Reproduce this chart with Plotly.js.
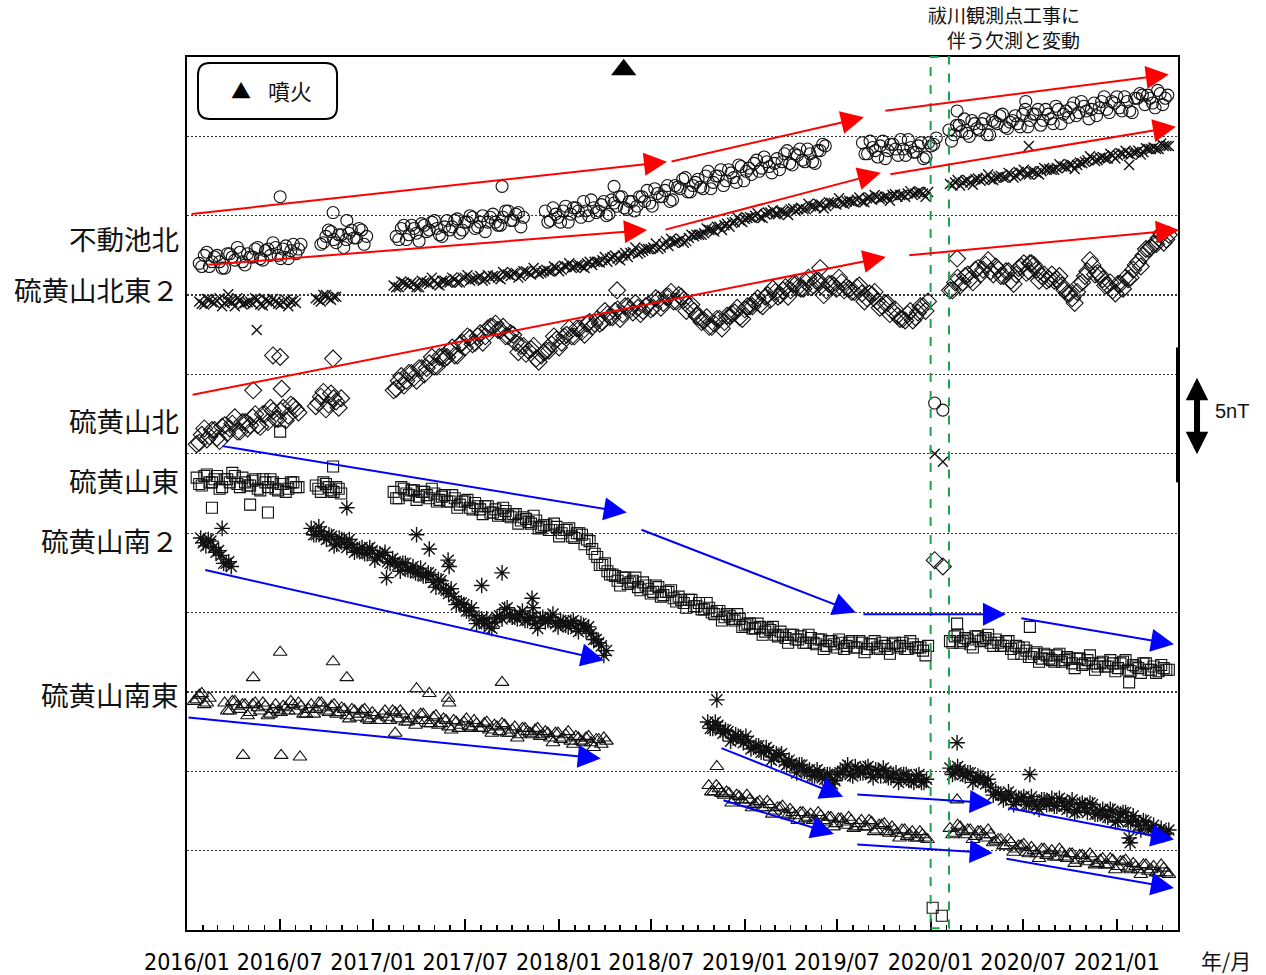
<!DOCTYPE html>
<html><head><meta charset="utf-8">
<script src="https://cdn.plot.ly/plotly-3.0.1.min.js"></script>
<style>html,body{margin:0;padding:0;background:#fff}#chart{width:1266px;height:975px}</style>
</head><body><div id="chart"></div>
<script>
// sampling: main samples every 10 days from each segment start, mid samples 5 days later
const STEP_DAYS = 10;
const MID_OFFSET_DAYS = 5;

// ---------- 不動池北 (circles) ----------
const fudoStarts = ['2016-01-25','2016-09-20','2017-02-15','2017-12-05','2019-08-20'];
const fudoSegs = [
 [42.0,42.5,41.8,42.4,42.1,41.7,42.6,42.2,42.7,41.9,42.4,42.9,42.3,42.8,42.5,43.0,42.3,43.1,42.8,42.6,43.2],
 [43.2,43.7,44.0,43.3,43.8,43.5,44.1,43.6,44.1,43.7],
 [43.7,44.2,43.5,44.4,43.9,44.5,44.0,44.6,44.2,43.7,44.7,44.3,44.8,44.1,44.6,44.9,44.3,45.0,44.6,45.1,44.4,44.9,45.3,44.7,45.2,44.9],
 [45.3,44.7,45.1,44.6,45.6,45.1,45.5,44.9,45.3,46.0,45.2,45.7,45.0,46.0,45.6,46.2,45.4,45.9,45.6,46.2,
  46.6,45.6,46.4,46.2,46.9,46.0,46.8,47.3,46.5,46.9,47.3,46.7,47.8,47.1,47.5,46.9,47.9,47.4,48.2,47.2,
  48.0,48.3,47.8,48.7,48.1,48.3,47.9,48.9,48.3,48.9,49.2,48.4,48.9,48.3,49.1,49.4],
 [49.6,48.9,49.3,48.7,49.7,49.1,49.5,48.8,49.2,49.8,49.0,49.4,48.6,49.6,49.5,null,null,
  50.4,50.1,50.7,51.1,50.0,50.8,50.4,51.1,50.1,50.9,51.3,50.6,50.9,51.3,50.6,51.7,51.0,51.4,50.7,51.7,
  51.1,51.9,50.8,51.6,51.8,51.3,52.2,51.6,51.7,51.3,52.2,51.7,52.2,52.5,51.6,52.2,51.5,52.4,52.6,52.6,
  52.1,52.9,52.0,52.6]
];
const fudoMid = [
 [41.8,42.7,42.1,42.5,41.7,42.6,42.4,43.0,42.1,42.6,42.4,43.0,42.2,42.9,43.3,42.5,42.9,42.3,43.2,42.9],
 [43.3,44.1,43.5,43.8,43.0,43.9,43.6,44.2,43.2],
 [43.5,44.4,43.8,44.2,43.4,44.4,44.1,44.7,43.8,44.3,44.1,44.7,43.9,44.6,45.0,44.2,44.6,44.0,44.9,44.6,44.4,45.3,44.7,45.1,44.3],
 [44.6,45.5,44.9,45.3,44.6,45.5,45.3,45.9,45.0,45.5,45.3,45.9,45.1,45.8,46.2,45.5,45.9,45.3,46.2,45.9,
  45.8,46.7,46.2,46.6,45.9,46.9,46.7,47.4,46.5,47.1,46.8,47.5,46.7,47.5,47.9,47.2,47.7,47.1,48.1,47.8,
  47.6,48.5,48.0,48.4,47.7,48.6,48.4,49.1,48.2,48.8,48.5,49.2,48.4,49.1,49.5],
 [48.9,49.7,49.1,49.4,48.6,49.5,49.2,49.8,48.8,49.3,49.0,49.6,48.7,49.4,49.9,null,null,
  49.7,50.7,50.3,50.2,51.0,50.5,50.8,50.1,51.0,50.8,51.4,50.5,51.0,50.8,51.4,50.6,51.4,51.7,51.0,51.4,
  50.8,51.7,51.4,51.2,52.1,51.5,51.9,51.1,52.1,51.8,52.5,51.5,52.1,51.8,52.5,51.6,52.4,52.7,52.0,52.4,
  51.8,52.7,52.4]
];
const fudoOutDates = ['2016-07-02','2016-10-14','2016-11-10','2017-09-11','2018-04-19','2020-07-06','2020-01-09','2020-01-25','2020-02-22'];
const fudoOutVals  = [46.2,45.2,44.7,46.85,46.85,52.2,33.2,32.75,51.6];

// ---------- 硫黄山北東２ (x) ----------
const ne2Starts = ['2016-01-25','2016-09-10','2017-02-10','2020-02-08'];
const ne2Segs = [
 [39.6,39.4,39.7,39.5,39.8,39.5,39.6,39.3,39.7,39.5,39.6,39.8,39.4,39.7,39.5,39.6,39.4,39.7,39.6,39.5],
 [39.8,39.6,40.0,39.7,39.9],
 [40.6,40.5,40.8,40.6,40.7,40.5,40.8,40.7,40.9,40.6,
  40.9,40.8,41.0,40.8,41.1,40.9,41.0,41.2,41.0,41.1,
  41.2,41.0,41.3,41.2,41.4,41.2,41.5,41.3,41.5,41.4,
  41.6,41.5,41.7,41.6,41.8,41.7,41.9,41.8,42.0,41.9,
  42.1,42.2,42.1,42.4,42.3,42.5,42.4,42.7,42.6,42.8,
  42.9,43.0,42.9,43.2,43.1,43.3,43.4,43.3,43.6,43.7,
  43.8,43.9,44.1,44.0,44.3,44.4,44.3,44.6,44.7,44.8,
  44.9,45.0,44.9,45.1,45.2,45.1,45.3,45.2,45.4,45.3,
  45.5,45.4,45.6,45.5,45.7,45.6,45.8,45.7,45.8,45.9,
  45.9,46.0,45.9,46.1,46.0,46.2,46.1,46.2,46.3,46.2,
  46.3,46.4,46.3,46.5,46.4,46.5],
 [47.0,47.1,46.9,47.2,47.1,47.3,47.2,47.4,47.3,47.4,
  47.5,47.4,47.6,47.5,47.7,47.6,47.8,47.7,47.8,47.9,
  47.9,48.0,48.1,48.0,48.2,48.2,48.3,48.5,48.6,48.5,
  48.7,48.6,48.8,48.8,48.9,48.9,49.0,49.1,49.0,49.2,
  49.3,49.2,49.4,49.4]
];
const ne2Mid = [
 [39.45,39.75,39.55,39.65,39.3,39.65,39.55,39.8,39.4,39.55,39.45,39.7,39.35,39.65,39.75,39.45,39.55,39.3,39.65],
 [39.7,40.0,39.8,39.9],
 [40.5,40.85,40.7,40.8,40.5,40.9,40.8,41.1,40.7,40.9,
  40.8,41.1,40.8,41.1,41.25,41.0,41.1,40.9,41.25,41.2,
  41.1,41.45,41.3,41.4,41.1,41.5,41.4,41.7,41.35,41.5,
  41.5,41.8,41.5,41.85,42.0,41.75,41.9,41.7,42.1,42.1,
  42.05,42.4,42.3,42.5,42.2,42.65,42.65,43.0,42.7,42.9,
  42.9,43.25,43.0,43.4,43.55,43.35,43.55,43.4,43.8,43.8,
  43.8,44.2,44.1,44.3,44.1,44.5,44.55,44.9,44.6,44.85,
  44.85,45.15,44.85,45.2,45.35,45.1,45.25,45.05,45.45,45.4,
  45.4,45.75,45.6,45.75,45.45,45.85,45.8,46.1,45.75,45.95,
  45.85,46.15,45.85,46.15,46.3,46.05,46.2,45.95,46.35,46.3,
  46.2,46.55,46.4,46.5,46.2],
 [46.9,47.25,47.1,47.25,46.95,47.35,47.3,47.6,47.25,47.45,
  47.4,47.7,47.4,47.75,47.9,47.6,47.8,47.6,48.0,47.95,
  47.9,48.25,48.1,48.25,47.95,48.35,48.4,48.75,48.45,48.65,
  48.6,48.9,48.6,48.95,49.1,48.85,49.0,48.85,49.25,49.2,
  49.2,49.55,49.4]
];
const ne2OutDates = ['2016-03-22','2016-05-17','2020-07-12','2021-01-25','2020-01-09','2020-01-25'];
const ne2OutVals  = [40.05,37.8,49.4,48.2,30.0,29.5];

// ---------- 硫黄山北 (diamonds) ----------
const nStarts = ['2016-01-20','2016-09-10','2017-02-10','2020-02-08'];
const nSegs = [
 [30.6,31.2,30.9,31.5,31.0,31.7,31.3,31.9,31.4,32.0,31.6,32.3,31.8,32.5,32.0,32.7,32.2,32.9,32.4,33.0,32.6],
 [33.0,33.6,32.8,33.8,33.3,33.5],
 [34.0,34.6,34.3,35.1,34.8,35.4,35.0,35.7,35.5,36.1,
  36.0,36.5,36.2,36.9,36.7,37.3,37.0,37.6,37.4,38.0,
  38.2,37.8,37.4,37.6,37.0,36.8,36.3,36.6,36.0,36.2,
  36.5,36.9,37.2,37.0,37.5,37.4,37.9,37.7,38.2,38.0,
  38.5,38.3,38.8,38.6,39.1,38.8,39.3,38.9,39.2,39.0,
  39.4,39.2,39.7,39.5,39.9,39.6,40.0,39.7,39.3,39.0,
  38.6,38.4,38.0,38.2,38.5,38.3,38.7,38.9,38.6,39.1,
  39.3,39.6,39.4,39.9,39.7,40.2,40.0,40.5,40.3,40.7,
  40.4,40.8,40.5,40.9,40.6,40.3,40.7,40.4,40.8,40.5,
  40.2,40.5,40.1,39.8,40.0,39.6,39.3,39.5,39.0,38.7,
  38.5,38.8,38.4,38.9,39.3,39.6],
 [40.3,40.8,40.6,41.2,41.0,41.6,41.3,41.9,41.5,41.8,
  41.2,41.5,40.9,41.3,41.8,41.4,42.0,41.6,41.2,40.9,
  41.3,41.0,40.6,40.1,39.8,40.2,40.8,41.5,41.9,41.4,
  41.0,40.6,40.3,40.7,40.4,41.0,41.6,42.1,42.5,42.9,
  43.2,43.6,43.3,43.8]
];
const nMid = [
 [30.7,31.6,31.1,31.5,30.8,31.8,31.6,32.3,31.4,32.0,31.8,32.5,31.7,32.5,32.9,32.2,32.7,32.1,33.1,32.8],
 [33.2,33.9,33.1,33.5,32.9],
 [34.1,34.9,34.6,35.1,34.6,35.4,35.4,36.1,35.5,36.1,
  36.1,36.7,36.2,37.0,37.4,36.9,37.4,37.0,37.9,38.0,
  37.8,38.0,37.4,37.5,36.4,36.8,36.5,36.8,35.8,36.4,
  36.5,37.4,36.7,37.4,37.9,37.4,37.9,37.5,38.3,38.2,
  38.2,39.0,38.6,39.0,38.5,39.3,39.1,39.5,38.8,39.3,
  39.1,39.8,39.2,39.9,40.2,39.6,39.9,39.0,39.4,38.7,
  38.3,38.6,38.0,38.5,37.9,38.7,38.8,39.2,38.5,39.3,
  39.3,39.8,39.3,40.0,40.4,39.9,40.3,39.9,40.7,40.5,
  40.4,41.1,40.6,40.9,40.0,40.7,40.6,41.1,40.3,40.4,
  40.2,40.6,39.6,40.1,40.2,39.2,39.5,38.8,39.1,38.5,
  38.4,39.0,38.6,39.3,39.0],
 [40.3,41.1,40.8,41.3,40.8,41.7,41.6,42.2,41.3,41.6,
  41.2,41.5,40.7,41.7,42.0,41.5,41.9,40.9,41.3,41.0,
  40.9,41.2,40.3,40.1,39.5,40.7,41.2,42.2,41.3,41.3,
  40.6,40.8,40.1,40.7,41.1,41.1,41.9,41.8,42.9,43.0,
  43.2,43.9,43.5]
];
const nOutDates = ['2016-06-18','2016-07-02','2016-10-14','2016-05-10','2016-07-05','2019-05-29','2020-07-14','2018-04-25','2020-01-09','2020-01-25','2020-02-22'];
const nOutVals  = [36.2,36.1,36.0,34.0,34.1,41.7,42.0,40.3,23.3,22.9,42.3];

// ---------- 硫黄山東 (squares) ----------
const eStarts = ['2016-01-20','2016-09-10','2017-02-10','2020-02-08'];
const eSegs = [
 [28.5,28.0,28.7,28.2,28.6,27.9,28.4,28.8,28.1,28.5,28.0,28.3,27.8,28.4,27.9,28.2,27.7,28.1,27.8,28.2,27.9],
 [28.0,27.6,28.1,27.7,27.9,27.5],
 [27.6,27.2,27.8,27.4,27.7,27.3,27.6,27.2,27.5,27.1,
  27.4,27.0,27.2,26.8,27.0,26.6,26.9,26.5,26.7,26.3,
  26.5,26.2,26.4,26.0,26.2,25.8,25.9,25.6,25.8,25.4,
  25.5,25.2,25.4,25.0,25.2,24.8,25.0,24.9,24.6,24.0,
  23.5,23.0,22.6,22.4,22.0,22.2,21.8,22.0,21.6,21.9,
  21.5,21.3,21.6,21.1,21.3,20.9,21.0,20.6,20.8,20.4,
  20.6,20.2,20.3,19.9,20.1,19.7,19.8,19.5,19.6,19.2,
  19.3,19.0,19.1,18.8,18.9,18.6,18.8,18.4,18.6,18.3,
  18.5,18.1,18.4,18.0,18.3,17.9,18.2,17.8,18.1,17.9,
  18.2,17.8,18.1,17.7,18.0,17.8,18.1,17.7,18.0,17.8,
  18.1,17.7,18.0,17.8,17.6,17.9],
 [18.2,18.5,18.1,18.4,18.0,18.5,18.2,18.4,18.1,18.3,
  17.9,18.2,17.7,17.9,17.4,17.6,17.2,17.5,17.1,17.3,
  17.0,17.3,16.9,17.2,16.8,17.1,16.7,17.0,16.8,16.6,
  16.9,16.6,16.8,16.5,16.9,16.4,16.7,16.5,16.8,16.4,
  16.6,16.3,16.5,16.4]
];
const eMid = [
 [28.1,28.6,28.2,28.4,27.8,28.4,28.2,28.6,27.9,28.2,28.0,28.4,27.7,28.2,28.4,27.8,28.1,27.6,28.2,27.9],
 [27.8,28.2,27.9,27.6,27.8],
 [27.2,27.9,27.5,27.7,27.1,27.6,27.4,27.8,27.0,27.3,
  27.0,27.4,26.6,27.0,27.1,26.5,26.7,26.2,26.7,26.3,
  26.1,26.6,26.1,26.2,25.6,26.0,25.7,26.1,25.3,25.5,
  25.2,25.6,24.8,25.2,25.3,24.7,25.0,24.3,24.5,23.7,
  23.0,23.1,22.4,22.3,21.7,22.2,21.9,22.2,21.4,21.7,
  21.2,21.7,21.0,21.3,21.4,20.7,20.8,20.3,20.8,20.4,
  20.2,20.6,20.0,20.1,19.5,19.9,19.6,19.9,19.1,19.3,
  19.0,19.3,18.6,19.0,19.1,18.5,18.6,18.1,18.6,18.3,
  18.1,18.6,18.1,18.3,17.7,18.2,18.0,18.3,17.7,18.1,
  17.8,18.2,17.5,18.0,18.2,17.7,17.9,17.4,18.1,17.9,
  17.7,18.2,17.8,17.8,17.3],
 [18.1,18.6,18.2,18.3,17.8,18.5,18.3,18.6,17.9,18.1,
  17.9,18.2,17.4,17.8,17.8,17.2,17.4,16.9,17.4,17.1,
  16.9,17.4,17.0,17.1,16.5,17.1,16.8,17.3,16.4,16.8,
  16.6,17.0,16.3,16.8,17.0,16.3,16.6,16.2,16.8,16.4,
  16.2,16.7,16.4]
];
const eOutDates = ['2016-02-19','2016-05-04','2016-06-08','2016-07-02','2016-10-14','2020-02-22','2020-07-14','2021-01-25','2020-01-05','2020-01-23'];
const eOutVals  = [26.6,26.8,26.3,31.4,29.2,19.3,19.1,15.6,1.4,0.9];

// ---------- 硫黄山南２ (asterisks) ----------
const s2Starts = ['2016-01-28','2016-09-01','2018-10-20','2020-02-08'];
const s2Segs = [
 [24.7,24.2,24.5,23.8,23.6,23.1,22.9],
 [25.3,24.9,25.1,24.6,24.8,24.3,24.6,24.1,24.3,23.9,
  24.1,23.7,23.9,23.5,23.6,23.2,23.4,23.0,23.1,22.7,
  22.9,22.5,22.3,22.5,21.9,22.1,21.5,21.2,21.0,20.6,
  20.5,20.1,19.8,19.5,19.3,19.1,19.4,19.8,20.2,19.9,
  19.7,19.9,19.5,19.7,19.3,19.6,19.4,19.7,19.3,19.5,
  19.2,19.4,19.0,19.3,18.9,18.7,18.3,17.9,17.6],
 [13.1,12.7,12.9,12.4,12.5,12.1,12.2,11.8,11.9,11.5,
  11.6,11.2,11.3,10.9,11.0,10.6,10.7,10.3,10.4,10.0,
  10.1,9.7,9.9,9.5,9.8,9.4,9.9,10.2,9.8,10.3,
  9.9,10.2,9.8,10.1,9.7,10.0,9.6,9.9,9.5,9.8,
  9.4,9.7,9.3,9.5],
 [10.2,9.9,10.1,9.7,9.9,9.5,9.6,9.2,9.0,8.7,
  8.5,8.3,8.5,8.1,8.3,7.9,8.4,7.8,8.2,7.9,
  8.3,7.8,8.1,7.6,8.2,7.5,8.0,7.4,7.9,7.3,
  7.6,7.1,7.5,6.9,7.4,6.8,7.2,6.6,6.9,6.4,
  6.6,6.2,6.0,6.3]
];
const s2Mid = [
 [24.4,24.6,24.1,23.9,23.1,23.2],
 [24.9,25.4,24.8,24.9,24.2,24.7,24.4,24.6,23.8,24.0,
  23.7,24.1,23.3,23.7,23.8,23.1,23.2,22.6,23.1,22.7,
  22.5,22.8,22.3,22.4,21.6,22.0,21.4,21.5,20.5,20.6,
  20.1,20.3,19.3,19.6,19.6,19.0,19.7,19.6,20.3,19.7,
  19.6,20.1,19.5,19.7,19.0,19.7,19.5,19.9,19.1,19.4,
  19.1,19.5,18.8,19.2,19.1,18.3,18.1,17.3],
 [12.7,13.1,12.6,12.6,11.9,12.3,12.0,12.2,11.4,11.6,
  11.2,11.5,10.7,11.1,11.1,10.4,10.5,9.9,10.4,10.0,
  9.7,10.1,9.6,9.8,9.2,9.8,10.0,10.4,9.7,10.1,
  9.9,10.3,9.6,10.0,10.2,9.6,9.8,9.3,9.8,9.5,
  9.3,9.8,9.3],
 [9.8,10.3,9.8,9.9,9.3,9.7,9.4,9.5,8.5,8.6,
  8.2,8.7,7.9,8.3,8.4,7.9,8.1,7.6,8.2,8.0,
  7.8,8.3,7.8,8.0,7.4,7.9,7.7,8.0,7.3,7.5,
  7.2,7.6,6.8,7.3,7.4,6.8,6.9,6.3,6.8,6.4,
  6.2,6.4,6.1]
];
const s2OutDates = ['2016-03-10','2016-11-10','2017-03-27','2017-04-21','2017-05-28','2017-05-30','2017-01-27','2017-09-11','2017-08-02','2017-11-09','2017-11-11','2018-11-07','2020-02-22','2020-07-14','2021-01-25','2021-01-27'];
const s2OutVals  = [25.3,26.6,24.9,24.0,23.3,22.9,22.2,22.5,21.7,20.9,20.3,14.5,11.8,9.8,5.8,5.5];

// ---------- 硫黄山南東 (triangles) ----------
const seStarts = ['2016-01-15','2016-03-15','2018-10-22','2020-02-08'];
const seSegs = [
 [14.4,14.8,14.2,14.6],
 [14.3,13.8,14.4,13.9,14.2,13.7,14.3,13.8,14.1,13.6,
  14.2,13.7,14.0,14.4,13.8,14.1,13.6,14.2,13.9,14.3,
  13.8,14.1,13.6,14.0,13.5,13.9,13.4,13.8,13.3,13.7,
  13.2,13.6,13.4,13.8,13.3,13.6,13.1,13.5,13.2,13.6,
  13.0,13.4,12.9,13.3,12.8,13.2,12.7,13.1,12.8,13.2,
  12.7,13.0,12.6,12.9,12.5,12.9,12.4,12.8,12.3,12.7,
  12.4,12.6,12.2,12.5,12.1,12.4,12.0,12.3,11.9,12.2,
  11.9,12.1,11.8,12.0,11.7,11.9],
 [9.1,8.7,8.9,8.5,8.6,8.2,8.4,8.0,8.2,7.9,
  8.1,7.7,7.9,7.5,7.7,7.3,7.6,7.2,7.4,7.0,
  7.3,6.9,7.2,6.8,7.1,6.7,7.0,6.6,6.9,6.5,
  6.9,6.5,6.8,6.3,6.6,6.2,6.5,6.1,6.3,5.9,
  6.2,5.8,6.0,5.7],
 [6.4,6.1,6.5,6.0,6.3,5.9,6.2,5.8,6.0,5.6,
  5.7,5.3,5.5,5.1,5.3,4.9,5.2,4.8,5.1,4.7,
  5.0,4.6,4.9,4.5,4.8,4.4,4.7,4.3,4.6,4.2,
  4.5,4.1,4.4,4.0,4.3,3.9,4.2,3.8,4.1,3.7,
  4.0,3.6,3.9,3.5]
];
const seMid = [
 [14.5,14.9,14.3],
 [13.8,14.4,14.1,14.2,13.5,14.2,14.0,14.3,13.5,13.9,
  13.8,14.1,13.8,14.2,14.3,13.6,13.9,13.6,14.3,14.0,
  13.7,14.2,13.7,13.9,13.3,13.8,13.6,13.9,13.2,13.5,
  13.2,13.8,13.2,13.7,13.8,13.1,13.3,12.9,13.6,13.2,
  13.0,13.5,13.0,13.2,12.6,13.1,12.9,13.3,12.7,13.0,
  12.7,13.1,12.4,12.8,13.0,12.4,12.6,12.1,12.7,12.5,
  12.3,12.7,12.3,12.4,11.8,12.4,12.1,12.5,11.7,12.1,
  11.8,12.2,11.5,12.0,12.1],
 [8.7,9.1,8.6,8.7,8.0,8.5,8.2,8.5,7.7,8.0,
  7.7,8.1,7.3,7.7,7.8,7.2,7.4,6.9,7.4,7.1,
  6.9,7.4,6.9,7.1,6.5,7.0,6.8,7.1,6.4,6.7,
  6.5,6.9,6.2,6.6,6.7,6.1,6.3,5.8,6.3,6.0,
  5.8,6.2,5.8],
 [6.0,6.6,6.2,6.3,5.7,6.2,6.0,6.3,5.5,5.7,
  5.3,5.7,4.9,5.3,5.4,4.8,5.0,4.5,5.1,4.8,
  4.6,5.1,4.6,4.8,4.2,4.7,4.5,4.8,4.1,4.4,
  4.1,4.5,3.8,4.3,4.4,3.8,4.0,3.5,4.1,3.8,
  3.6,4.1,3.6]
];
const seOutDates = ['2016-07-02','2016-10-14','2016-05-10','2016-11-10','2016-04-20','2016-07-04','2016-08-10','2017-03-27','2017-09-11','2017-04-21','2017-05-28','2017-05-30','2017-02-13','2018-11-07','2020-02-22'];
const seOutVals  = [17.5,16.9,15.9,15.9,11.0,11.0,10.9,15.2,15.6,14.9,14.6,14.3,12.4,10.3,8.2];

// ---------- eruption ----------
const eruptionDates = ['2018-05-08'];
const eruptionVals = [54.2];

// ---------- trend arrows (tail -> head) ----------
const redTailX = ['2016-01-07','2018-08-07','2019-10-01','2016-02-09','2018-07-26','2019-10-11','2016-01-09','2019-11-17'];
const redTailY = [45.1,48.4,51.6,41.9,44.1,47.6,33.7,42.5];
const redHeadX = ['2018-08-01','2019-08-23','2021-04-13','2018-06-23','2019-09-25','2021-04-27','2019-10-05','2021-05-03'];
const redHeadY = [48.4,51.2,53.9,44.1,47.7,50.6,42.4,44.1];
const blueTailX = ['2016-03-08','2018-06-09','2019-08-19','2020-06-24','2016-02-03','2016-01-01','2018-11-13','2019-08-07','2020-05-30','2018-11-17','2019-08-07','2020-05-26'];
const blueTailY = [30.5,25.25,19.9,19.65,22.7,13.4,11.5,8.55,7.7,8.2,5.4,4.5];
const blueHeadX = ['2018-05-14','2019-08-07','2020-05-28','2021-04-23','2018-03-30','2018-03-24','2019-07-13','2020-05-02','2021-04-23','2019-06-25','2020-05-02','2021-04-23'];
const blueHeadY = [26.3,20.0,19.9,18.0,17.0,10.8,8.4,8.0,5.7,6.05,4.85,2.65];

// ---------- labels ----------
const stationNames = ['不動池北','硫黄山北東２','硫黄山北','硫黄山東','硫黄山南２','硫黄山南東'];
const stationLabelY = [43.6,40.4,32.1,28.35,24.6,14.9];
const gapStart = '2020-01-01', gapEnd = '2020-02-06';

function addDays(s, d){ return new Date(Date.parse(s+'T00:00:00Z') + d*86400000).toISOString().slice(0,10); }
function buildSeries(starts, segs, mids, outDates, outVals){
  const x=[], y=[];
  starts.forEach((s,k)=>{
    segs[k].forEach((v,i)=>{ x.push(addDays(s, i*STEP_DAYS)); y.push(v); });
    mids[k].forEach((v,i)=>{ x.push(addDays(s, MID_OFFSET_DAYS + i*STEP_DAYS)); y.push(v); });
  });
  outDates.forEach((d,i)=>{ x.push(d); y.push(outVals[i]); });
  return {x,y};
}
function mk(d, symbol, size, lw){
  return {type:'scatter', mode:'markers', x:d.x, y:d.y, showlegend:false, hoverinfo:'skip',
    marker:{symbol:symbol, size:size, color:'#111', line:{width:lw, color:'#111'}}};
}
const traces = [
  mk(buildSeries(fudoStarts,fudoSegs,fudoMid,fudoOutDates,fudoOutVals),'circle-open',12,1.1),
  mk(buildSeries(ne2Starts,ne2Segs,ne2Mid,ne2OutDates,ne2OutVals),'x-thin-open',10,1.4),
  mk(buildSeries(nStarts,nSegs,nMid,nOutDates,nOutVals),'diamond-open',13,1.1),
  mk(buildSeries(eStarts,eSegs,eMid,eOutDates,eOutVals),'square-open',11,1.1),
  mk(buildSeries(s2Starts,s2Segs,s2Mid,s2OutDates,s2OutVals),'asterisk-open',13,1.4),
  mk(buildSeries(seStarts,seSegs,seMid,seOutDates,seOutVals),'triangle-up-open',12,1.1),
  {type:'scatter',mode:'markers',x:eruptionDates,y:eruptionVals,cliponaxis:false,showlegend:false,hoverinfo:'skip',
   marker:{symbol:'triangle-up',size:22,color:'#000'}}
];

const JP = '"Noto Sans CJK JP", "Noto Sans", sans-serif';
const annotations = [];
function arrow(tx,ty,hx,hy,color){
  annotations.push({x:hx,y:hy,ax:tx,ay:ty,xref:'x',yref:'y',axref:'x',ayref:'y',text:'',showarrow:true,
    arrowhead:2,arrowsize:2.3,arrowwidth:2,arrowcolor:color,standoff:0});
}
redTailX.forEach((_,i)=>arrow(redTailX[i],redTailY[i],redHeadX[i],redHeadY[i],'#ff0000'));
blueTailX.forEach((_,i)=>arrow(blueTailX[i],blueTailY[i],blueHeadX[i],blueHeadY[i],'#0000ff'));
stationNames.forEach((n,i)=>annotations.push({xref:'paper',yref:'y',x:-0.006,y:stationLabelY[i],xanchor:'right',yanchor:'middle',
  text:n,showarrow:false,font:{family:JP,size:27.5,color:'#111'}}));
annotations.push({xref:'paper',yref:'paper',x:0.9031,y:1.0338,xanchor:'right',yanchor:'middle',align:'right',
  text:'祓川観測点工事に<br>伴う欠測と変動',showarrow:false,font:{family:JP,size:19,color:'#111'}});
annotations.push({xref:'paper',yref:'paper',x:0.0545,y:0.962,xanchor:'center',yanchor:'middle',text:'▲',showarrow:false,font:{family:JP,size:20,color:'#000'}});
annotations.push({xref:'paper',yref:'paper',x:0.104,y:0.962,xanchor:'center',yanchor:'middle',text:'噴火',showarrow:false,font:{family:JP,size:22,color:'#111'}});
annotations.push({xref:'paper',yref:'paper',x:1.048,y:-0.034,xanchor:'center',yanchor:'middle',text:'年/月',showarrow:false,font:{family:JP,size:21,color:'#111'}});
annotations.push({xref:'paper',yref:'paper',x:1.0545,y:0.595,xanchor:'center',yanchor:'middle',text:'5nT',showarrow:false,font:{family:'"Liberation Sans", Arial, sans-serif',size:20,color:'#111'}});
annotations.push({xref:'paper',yref:'y',x:1.0192,y:34.8,ax:0,ay:78,axref:'pixel',ayref:'pixel',text:'',showarrow:true,
  arrowhead:2,arrowsize:0.75,arrowwidth:6,arrowcolor:'#000',arrowside:'end+start',standoff:0,startstandoff:0});

// rounded legend box
const bx0=0.0111,bx1=0.1514,by0=0.929,by1=0.993,rx=0.012,ry=0.0137;
const boxPath = `M${bx0+rx},${by0} L${bx1-rx},${by0} Q${bx1},${by0} ${bx1},${by0+ry} L${bx1},${by1-ry} Q${bx1},${by1} ${bx1-rx},${by1} L${bx0+rx},${by1} Q${bx0},${by1} ${bx0},${by1-ry} L${bx0},${by0+ry} Q${bx0},${by0} ${bx0+rx},${by0} Z`;

const shapes = [
  {type:'path',xref:'paper',yref:'paper',path:boxPath,line:{color:'#000',width:2}},
  {type:'rect',xref:'x',yref:'paper',x0:gapStart,x1:gapEnd,y0:0.002,y1:1.0,line:{color:'#1aa34a',width:2,dash:'dash'}},
  {type:'line',xref:'paper',yref:'y',x0:1.0,x1:1.0,y0:28.2,y1:36.7,line:{color:'#000',width:4}}
];

const layout = {
  width:1266, height:975,
  margin:{l:187,r:88,t:57,b:45},
  paper_bgcolor:'#fff', plot_bgcolor:'#fff',
  showlegend:false,
  xaxis:{type:'date',range:['2016-01-01','2021-05-01'],tick0:'2016-01-01',dtick:'M6',tickformat:'%Y/%m',
    tickangle:0, automargin:false,
    ticks:'inside',ticklen:11,tickwidth:2,tickcolor:'#000',
    minor:{dtick:'M1',tick0:'2016-01-01',ticks:'inside',ticklen:5,tickwidth:1.5,tickcolor:'#000',showgrid:false},
    showgrid:false,zeroline:false,showline:true,mirror:true,linecolor:'#000',linewidth:2,
    ticklabelstandoff:10,
    tickfont:{family:'"DejaVu Sans Condensed", "Liberation Sans Narrow", sans-serif',size:23,color:'#000'}},
  yaxis:{range:[0,55],dtick:5,tick0:0,showticklabels:false,ticks:'',showgrid:true,gridcolor:'#333',gridwidth:1.3,
    griddash:'2px,2px',zeroline:false,showline:true,mirror:true,linecolor:'#000',linewidth:2},
  annotations:annotations,
  shapes:shapes
};

Plotly.newPlot('chart', traces, layout, {staticPlot:true, displayModeBar:false});
</script>
</body></html>
